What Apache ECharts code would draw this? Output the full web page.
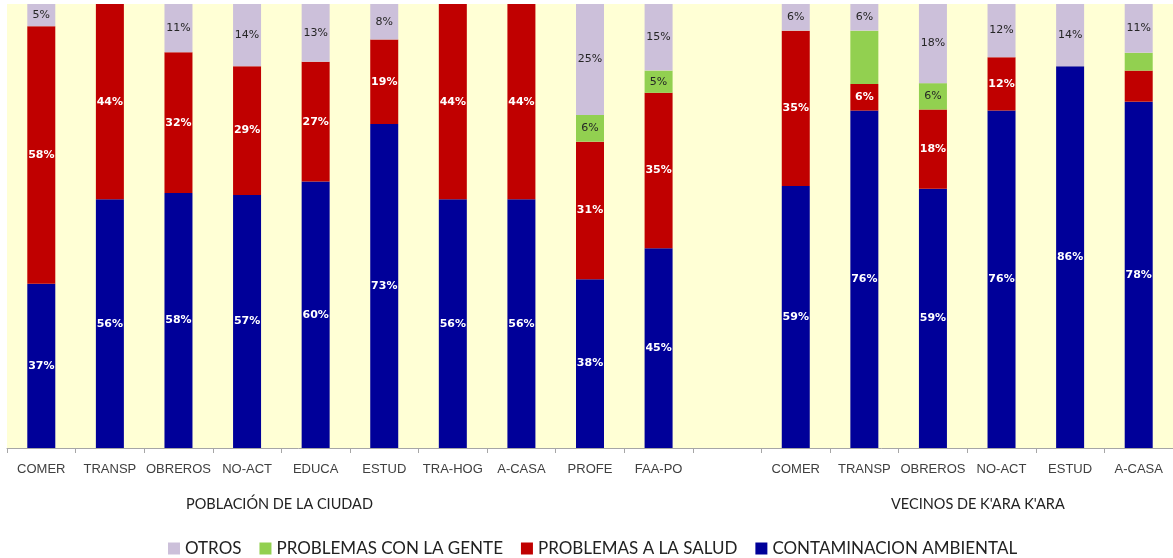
<!DOCTYPE html>
<html><head><meta charset="utf-8">
<script src="https://cdn.jsdelivr.net/npm/echarts@6/dist/echarts.min.js"></script>
<style>html,body{margin:0;padding:0;background:#fff}#c{width:1173px;height:558px}</style>
</head><body><div id="c"></div>
<script>
const categories = ['COMER','TRANSP','OBREROS','NO-ACT','EDUCA','ESTUD','TRA-HOG','A-CASA','PROFE','FAA-PO','','COMER','TRANSP','OBREROS','NO-ACT','ESTUD','A-CASA'];
const contaminacion = [37,56,58,57,60,73,56,56,38,45,null,59,76,59,76,86,78];
const salud         = [58,44,32,29,27,19,44,44,31,35,null,35,6,18,12,0,7];
const gente         = [0,0,0,0,0,0,0,0,6,5,null,0,12,6,0,0,4];
const otros         = [5,0,11,14,13,8,0,0,25,15,null,6,6,18,12,14,11];
// labels not shown in the reference: [category index, series]
const hiddenLabels = [[12,'gente'],[16,'salud'],[16,'gente']];
const groupLabels = ['POBLACIÓN DE LA CIUDAD', "VECINOS DE K'ARA K'ARA"];

const totals = categories.map((c,i)=> (contaminacion[i]||0)+(salud[i]||0)+(gente[i]||0)+(otros[i]||0));
function build(arr, key){
  return arr.map((v,i)=>{
    if (v==null || v===0) return {value: null};
    const hide = hiddenLabels.some(h=>h[0]===i && h[1]===key);
    return {value: v/totals[i]*100, raw: v, label: {show: !hide}};
  });
}
const chart = echarts.init(document.getElementById('c'), null, {renderer:'canvas'});
const whiteLbl = {show:true, position:'inside', color:'#fff', fontWeight:'bold', fontFamily:'DejaVu Sans', fontSize:11, formatter:p=>p.data.raw+'%'};
const darkLbl = {show:true, position:'inside', color:'#262626', fontWeight:'normal', fontFamily:'DejaVu Sans', fontSize:11, formatter:p=>p.data.raw+'%'};
function ser(name, arr, key, color, lbl){
  return {name, type:'bar', stack:'s', data: build(arr,key), barWidth:28, itemStyle:{color}, label: lbl, animation:false, emphasis:{disabled:true}};
}
chart.setOption({
  animation:false,
  grid:{left:7, top:4, width:1170, height:444, show:true, backgroundColor:'#FFFFD5', borderWidth:0, containLabel:false},
  xAxis:{type:'category', data:categories, axisLine:{lineStyle:{color:'#A6A6A6'}}, axisTick:{show:true, length:5, lineStyle:{color:'#A6A6A6'}},
    axisLabel:{color:'#404040', fontFamily:'Liberation Sans', fontSize:13, margin:15, interval:0}},
  yAxis:{type:'value', min:0, max:100, show:false, splitLine:{show:false}},
  legend:{left:163, top:535, itemWidth:12, itemHeight:12, itemGap:18, icon:'rect',
    textStyle:{fontFamily:'Lato', fontSize:17, color:'#222'},
    data:['OTROS','PROBLEMAS CON LA GENTE','PROBLEMAS A LA SALUD','CONTAMINACION AMBIENTAL']},
  graphic:[
    {type:'text', left:186, top:497, style:{text:groupLabels[0], fontFamily:'Lato', fontSize:14.5, fill:'#222'}},
    {type:'text', left:891, top:497, style:{text:groupLabels[1], fontFamily:'Lato', fontSize:14.5, fill:'#222'}}
  ],
  series:[
    ser('CONTAMINACION AMBIENTAL', contaminacion, 'contaminacion', '#000099', whiteLbl),
    ser('PROBLEMAS A LA SALUD', salud, 'salud', '#C00000', whiteLbl),
    ser('PROBLEMAS CON LA GENTE', gente, 'gente', '#92D050', darkLbl),
    ser('OTROS', otros, 'otros', '#CCC0DA', darkLbl)
  ]
});
</script></body></html>
